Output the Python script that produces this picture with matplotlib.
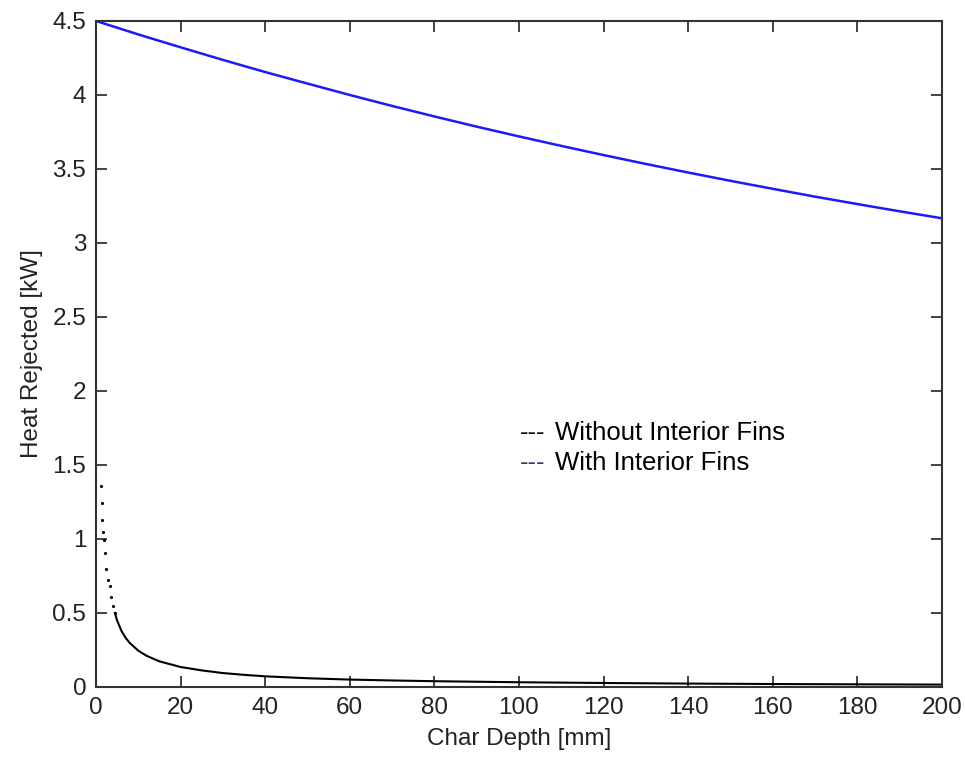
import matplotlib
matplotlib.use("Agg")
import matplotlib.pyplot as plt

plt.rcParams['font.family'] = ['Liberation Sans', 'DejaVu Sans']

# Data
depth_fins = [0, 10, 20, 30, 40, 50, 60, 70, 80, 90, 100, 110, 120, 130, 140, 150,
              160, 170, 180, 190, 200]
heat_fins = [4.500, 4.409, 4.322, 4.237, 4.155, 4.077, 4.000, 3.926, 3.855, 3.786, 3.720,
             3.656, 3.594, 3.534, 3.476, 3.420, 3.366, 3.313, 3.263, 3.214, 3.167]

depth_nofins = [1.28, 1.36, 1.44, 1.67, 1.83, 2.07, 2.47, 2.87, 3.27, 3.6, 4.07, 4.47,
                5, 6, 7, 8, 10, 12, 15, 20, 25, 30, 35, 40, 50, 60, 70, 80,
                100, 120, 140, 160, 180, 200]
heat_nofins = [1.356, 1.243, 1.13, 1.05, 0.995, 0.905, 0.80, 0.725, 0.68, 0.61, 0.545, 0.5,
               0.448, 0.380, 0.332, 0.297, 0.245, 0.210, 0.173, 0.135, 0.112, 0.094, 0.082,
               0.072, 0.059, 0.050, 0.044, 0.039, 0.032, 0.027, 0.023, 0.020, 0.018, 0.016]

xticks = list(range(0, 201, 20))
yticks = [0, 0.5, 1, 1.5, 2, 2.5, 3, 3.5, 4, 4.5]

fig = plt.figure(figsize=(9.65, 7.57), dpi=100)
ax = fig.add_axes([0.0995, 0.0925, 0.8765, 0.8798])

ax.plot(depth_fins, heat_fins, color='#1a1aff', linewidth=1.8)

# sparse dots for the steep start, solid line after
n_dots = 12
ax.plot(depth_nofins[:n_dots], heat_nofins[:n_dots], linestyle='none', marker='.',
        color='black', markersize=2.5)
ax.plot(depth_nofins[n_dots - 1:], heat_nofins[n_dots - 1:], color='black', linewidth=1.5)

ax.set_xlim(0, 200)
ax.set_ylim(0, 4.5)
ax.set_xticks(xticks)
ax.set_yticks(yticks)
ax.set_yticklabels([f'{v:g}' for v in yticks])
ax.tick_params(direction='in', length=8, width=1.2, labelsize=17.5, top=True, right=True, pad=7,
               colors='#222222')
for s in ax.spines.values():
    s.set_linewidth(1.5)
    s.set_color('#333333')

ax.set_xlabel('Char Depth [mm]', fontsize=17.5, color='#222222', labelpad=7)
ax.set_ylabel('Heat Rejected [kW]', fontsize=17.5, color='#222222', labelpad=7)

# text-style legend
fs = 18.5
ax.text(0.501, 0.381, '---', transform=ax.transAxes, fontsize=fs, color='black', va='center')
ax.text(0.5426, 0.381, 'Without Interior Fins', transform=ax.transAxes, fontsize=fs,
        color='black', va='center')
ax.text(0.501, 0.336, '---', transform=ax.transAxes, fontsize=fs, color='#2a3a70', va='center')
ax.text(0.5426, 0.336, 'With Interior Fins', transform=ax.transAxes, fontsize=fs,
        color='black', va='center')

fig.savefig('out.png', dpi=100)
